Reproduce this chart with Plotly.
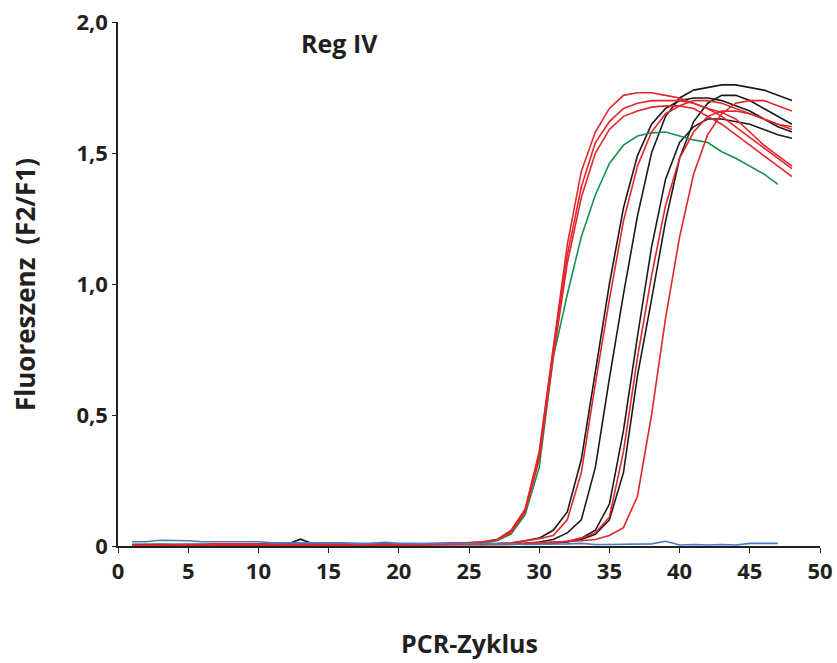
import plotly.graph_objects as go

cycles = list(range(1, 49))
cycles_short = list(range(1, 48))

black_1 = [0.005,0.006,0.006,0.005,0.005,0.006,0.006,0.005,0.005,0.005,
           0.005,0.006,0.026,0.006,0.005,0.005,0.006,0.006,0.005,0.005,
           0.006,0.006,0.008,0.010,0.008,0.006,0.008,0.010,0.020,0.030,
           0.060,0.130,0.330,0.660,1.000,1.290,1.490,1.610,1.670,1.700,
           1.710,1.710,1.700,1.680,1.660,1.630,1.600,1.580]
black_2 = [0.006,0.006,0.007,0.007,0.006,0.006,0.006,0.006,0.006,0.006,
           0.006,0.006,0.006,0.006,0.006,0.006,0.006,0.006,0.006,0.006,
           0.006,0.008,0.008,0.008,0.008,0.008,0.008,0.008,0.010,0.015,
           0.025,0.050,0.100,0.300,0.640,0.960,1.260,1.500,1.640,1.710,
           1.740,1.750,1.760,1.760,1.750,1.740,1.720,1.700]
black_3 = [0.004,0.004,0.005,0.005,0.005,0.005,0.004,0.004,0.004,0.004,
           0.004,0.004,0.005,0.005,0.004,0.004,0.004,0.004,0.004,0.004,
           0.004,0.004,0.005,0.006,0.006,0.006,0.006,0.006,0.008,0.010,
           0.012,0.016,0.030,0.060,0.160,0.440,0.800,1.140,1.400,1.540,
           1.600,1.630,1.630,1.620,1.610,1.590,1.570,1.556]
black_4 = [0.005,0.005,0.005,0.006,0.006,0.005,0.005,0.005,0.005,0.005,
           0.005,0.005,0.005,0.005,0.005,0.005,0.005,0.005,0.005,0.005,
           0.005,0.005,0.006,0.006,0.006,0.006,0.006,0.006,0.007,0.008,
           0.010,0.015,0.025,0.045,0.100,0.280,0.650,0.940,1.240,1.480,
           1.620,1.690,1.720,1.720,1.700,1.670,1.640,1.610]

red_1 = [0.002,0.001,0.002,0.003,0.004,0.004,0.005,0.006,0.006,0.006,
         0.006,0.006,0.006,0.006,0.006,0.006,0.006,0.006,0.006,0.006,
         0.008,0.008,0.010,0.010,0.012,0.016,0.025,0.060,0.140,0.360,
         0.760,1.150,1.430,1.580,1.670,1.720,1.730,1.730,1.720,1.710,
         1.690,1.670,1.655,1.630,1.580,1.530,1.490,1.450]
red_2 = [0.004,0.004,0.005,0.005,0.005,0.005,0.008,0.008,0.006,0.006,
         0.006,0.005,0.005,0.005,0.005,0.005,0.005,0.006,0.006,0.006,
         0.006,0.008,0.008,0.010,0.012,0.015,0.025,0.055,0.140,0.350,
         0.750,1.110,1.370,1.540,1.620,1.670,1.690,1.700,1.700,1.700,
         1.690,1.670,1.640,1.600,1.560,1.520,1.480,1.440]
red_3 = [0.003,0.003,0.004,0.004,0.005,0.005,0.005,0.005,0.005,0.005,
         0.005,0.005,0.005,0.005,0.008,0.008,0.006,0.006,0.005,0.005,
         0.006,0.006,0.008,0.010,0.012,0.015,0.025,0.050,0.130,0.330,
         0.720,1.080,1.330,1.500,1.590,1.640,1.660,1.675,1.680,1.680,
         1.670,1.640,1.610,1.570,1.530,1.490,1.450,1.410]
red_4 = [0.004,0.004,0.004,0.004,0.004,0.004,0.004,0.004,0.004,0.004,
         0.004,0.004,0.004,0.004,0.004,0.004,0.004,0.004,0.004,0.004,
         0.006,0.006,0.008,0.008,0.008,0.008,0.010,0.012,0.020,0.028,
         0.040,0.100,0.280,0.620,0.940,1.240,1.450,1.580,1.650,1.680,
         1.700,1.700,1.690,1.670,1.650,1.630,1.610,1.590]
red_5 = [0.004,0.004,0.004,0.004,0.004,0.004,0.004,0.004,0.004,0.004,
         0.004,0.004,0.004,0.004,0.004,0.004,0.004,0.004,0.004,0.004,
         0.004,0.004,0.005,0.006,0.006,0.006,0.006,0.007,0.008,0.010,
         0.012,0.018,0.030,0.050,0.110,0.360,0.720,1.030,1.300,1.480,
         1.580,1.640,1.660,1.660,1.650,1.630,1.610,1.600]
red_6 = [0.003,0.003,0.003,0.003,0.003,0.003,0.003,0.003,0.003,0.003,
         0.003,0.003,0.003,0.003,0.003,0.003,0.003,0.003,0.003,0.003,
         0.004,0.004,0.005,0.006,0.006,0.006,0.007,0.008,0.010,0.012,
         0.014,0.017,0.020,0.025,0.040,0.070,0.190,0.500,0.870,1.180,
         1.420,1.570,1.650,1.690,1.700,1.700,1.680,1.660]

green_1 = [0.006,0.006,0.007,0.008,0.008,0.006,0.006,0.006,0.006,0.006,
           0.006,0.006,0.006,0.006,0.004,0.001,0.002,0.004,0.006,0.006,
           0.006,0.006,0.006,0.008,0.008,0.012,0.020,0.045,0.120,0.300,
           0.720,0.960,1.180,1.340,1.460,1.530,1.565,1.577,1.580,1.565,
           1.550,1.540,1.505,1.480,1.450,1.420,1.380]

blue_1 = [0.016,0.016,0.022,0.022,0.020,0.016,0.016,0.016,0.016,0.016,
          0.012,0.012,0.014,0.012,0.014,0.012,0.010,0.010,0.014,0.010,
          0.010,0.010,0.010,0.010,0.010,0.010,0.008,0.008,0.006,0.006,
          0.006,0.008,0.010,0.006,0.006,0.006,0.006,0.008,0.018,0.004,
          0.006,0.004,0.006,0.004,0.010,0.010,0.010]

y_ticks = [0, 0.5, 1.0, 1.5, 2.0]
y_tick_labels = ["0", "0,5", "1,0", "1,5", "2,0"]
x_ticks = [0, 5, 10, 15, 20, 25, 30, 35, 40, 45, 50]

BLACK = "#1b1b1b"
RED = "#e2262b"
GREEN = "#17934f"
BLUE = "#4b79c6"
INK = "#231f20"

fig = go.Figure()
series = [
    (black_1, BLACK, cycles), (black_2, BLACK, cycles), (black_3, BLACK, cycles), (black_4, BLACK, cycles),
    (green_1, GREEN, cycles_short),
    (red_1, RED, cycles), (red_2, RED, cycles), (red_3, RED, cycles),
    (red_4, RED, cycles), (red_5, RED, cycles), (red_6, RED, cycles),
    (blue_1, BLUE, cycles_short),
]
for ys, col, xs in series:
    fig.add_trace(go.Scatter(x=xs, y=ys, mode="lines",
                             line=dict(color=col, width=1.6),
                             showlegend=False, hoverinfo="skip"))

FONT = "Open Sans"
fig.update_layout(
    width=837, height=663,
    margin=dict(l=118, r=17, t=22, b=117),
    paper_bgcolor="white", plot_bgcolor="white",
    font=dict(family=FONT, color=INK),
    xaxis=dict(range=[0, 50], tickvals=x_ticks, showgrid=False, zeroline=False, automargin=False,
               showline=True, linecolor=INK, linewidth=1.5,
               ticks="outside", ticklen=5, tickwidth=1.2, tickcolor=INK,
               tickfont=dict(family=FONT, size=22, weight="bold", color=INK)),
    yaxis=dict(range=[0, 2.0], tickvals=y_ticks, ticktext=y_tick_labels, showgrid=False, zeroline=False,
               automargin=False,
               showline=True, linecolor=INK, linewidth=1.5,
               ticks="outside", ticklen=4, tickwidth=1.2, tickcolor=INK,
               tickfont=dict(family=FONT, size=22, weight="bold", color=INK)),
    annotations=[
        dict(text="Reg IV", x=15.8, y=1.92, xref="x", yref="y", showarrow=False,
             xanchor="center", yanchor="middle",
             font=dict(family=FONT, size=25, weight="bold", color=INK)),
        dict(text="PCR-Zyklus", x=0.5, y=-0.185, xref="paper", yref="paper", showarrow=False,
             xanchor="center", yanchor="middle",
             font=dict(family=FONT, size=25, weight="bold", color=INK)),
        dict(text="Fluoreszenz\u2002(F2/F1)", x=-0.1325, y=0.5, xref="paper", yref="paper", showarrow=False,
             textangle=-90, xanchor="center", yanchor="middle",
             font=dict(family=FONT, size=26, weight="bold", color=INK)),
    ],
)

fig.write_html("out.html", config={"displayModeBar": False},
               post_script="document.body.style.margin='0';")
